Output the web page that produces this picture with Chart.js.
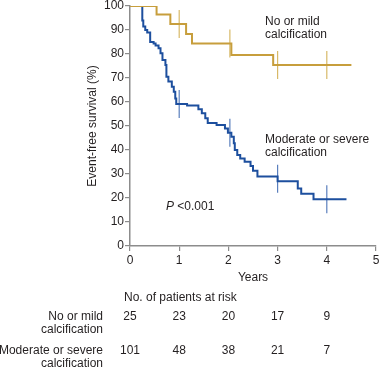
<!DOCTYPE html>
<html>
<head>
<meta charset="utf-8">
<script src="https://cdn.jsdelivr.net/npm/chart.js@4.4.0/dist/chart.umd.min.js"></script>
<style>
  html, body { margin: 0; padding: 0; background: #fff; }
  #wrap { width: 381px; height: 370px; }
</style>
</head>
<body>
<div id="wrap"><canvas id="kmChart" width="381" height="370"></canvas></div>
<script>
// Kaplan-Meier steps (years, % event-free)
const mildTimes = [0, 0.54, 0.82, 1.14, 1.26, 2.06, 2.91, 4.5];
const mildSurv  = [100, 96.5, 92.5, 88.3, 84.4, 79.6, 75.4, 75.4];
const severeTimes = [0, 0.25, 0.27, 0.31, 0.35, 0.41, 0.48, 0.52, 0.58, 0.62, 0.66, 0.72, 0.74, 0.78,
                     0.85, 0.89, 0.92, 0.94, 1.16, 1.39, 1.46, 1.53, 1.58, 1.76, 1.93, 1.99, 2.06,
                     2.11, 2.13, 2.18, 2.24, 2.33, 2.45, 2.50, 2.59, 3.0, 3.41, 3.48, 3.73, 4.4];
const severeSurv  = [100, 94, 91.5, 90, 89, 85, 84.4, 83.5, 82.4, 80.3, 77.5, 75.4, 70.5, 68.5,
                     66.4, 64.3, 61.5, 59.2, 58.5, 57, 55.3, 53.2, 51.3, 50.4, 49, 47.2, 45.5,
                     42.8, 40, 37.9, 36.5, 35.1, 33.3, 31.4, 29, 27, 24, 21.8, 19.5, 19.5];
// censoring marks
const mildCensorT = [1.0, 2.03, 3.0, 4.0];
const mildCensorS = [92.5, 84.4, 75.4, 75.4];
const severeCensorT = [1.0, 2.03, 3.0, 4.0];
const severeCensorS = [59.2, 47.2, 28, 19.5];

const xTicks = [0, 1, 2, 3, 4, 5];
const yTicks = [0, 10, 20, 30, 40, 50, 60, 70, 80, 90, 100];
const riskYears = [0, 1, 2, 3, 4];
const riskMild = [25, 23, 20, 17, 9];
const riskSevere = [101, 48, 38, 21, 7];

const gold = "#c79e3c";
const goldLight = "#d8b968";
const blue = "#1d4f9e";
const blueLight = "#5a7fbd";
const axisGray = "#8c8c8c";
const textColor = "#231f20";
const fontFam = "'Liberation Sans', Arial, Helvetica, sans-serif";

Chart.defaults.font.family = fontFam;
Chart.defaults.font.size = 12;
Chart.defaults.color = textColor;

function toPoints(xs, ys) {
    let pts = [];
    for (let i = 0; i < xs.length; i++) {
        pts.push({x: xs[i], y: ys[i]});
    }
    return pts;
}

function txt(ctx, s, x, y, align, font) {
    ctx.font = font || ("12px " + fontFam);
    ctx.textAlign = align;
    ctx.fillText(s, x, y);
}

const labelsPlugin = {
    id: "labelsPlugin",
    afterDraw(chart) {
        const ctx = chart.ctx;
        const xs = chart.scales.x;
        const area = chart.chartArea;
        ctx.save();
        ctx.fillStyle = textColor;
        ctx.textBaseline = "middle";

        // y axis title
        ctx.save();
        ctx.translate(93, (area.top + area.bottom) / 2);
        ctx.rotate(-Math.PI / 2);
        txt(ctx, "Event-free survival (%)", 0, 0, "center");
        ctx.restore();

        // x axis title
        txt(ctx, "Years", (area.left + area.right) / 2, 278, "center");

        // curve labels
        txt(ctx, "No or mild", 265, 22, "left");
        txt(ctx, "calcification", 265, 35, "left");
        txt(ctx, "Moderate or severe", 265, 140, "left");
        txt(ctx, "calcification", 265, 153, "left");

        // p value
        txt(ctx, "P", 166, 207, "left", "italic 12px " + fontFam);
        let pw = ctx.measureText("P").width;
        txt(ctx, " <0.001", 166 + pw, 207, "left");

        // risk table
        txt(ctx, "No. of patients at risk", 124, 298, "left");
        txt(ctx, "No or mild", 103, 317, "right");
        txt(ctx, "calcification", 103, 330, "right");
        txt(ctx, "Moderate or severe", 103, 351, "right");
        txt(ctx, "calcification", 103, 364, "right");
        for (let i = 0; i < riskYears.length; i++) {
            let px = xs.getPixelForValue(riskYears[i]);
            txt(ctx, String(riskMild[i]), px, 317, "center");
            txt(ctx, String(riskSevere[i]), px, 351, "center");
        }
        ctx.restore();
    }
};

const canvas = document.getElementById("kmChart").getContext("2d");
let kmChart = new Chart(canvas, {
    type: "scatter",
    data: {
        datasets: [
            {
                data: toPoints(mildTimes, mildSurv),
                showLine: true, stepped: true,
                borderColor: gold, borderWidth: 2, pointRadius: 0
            },
            {
                data: toPoints(severeTimes, severeSurv),
                showLine: true, stepped: true,
                borderColor: blue, borderWidth: 2, pointRadius: 0
            },
            {
                data: toPoints(mildCensorT, mildCensorS),
                showLine: false, pointStyle: "line", rotation: 90, clip: false,
                pointRadius: 14, borderColor: goldLight, pointBorderWidth: 1.2
            },
            {
                data: toPoints(severeCensorT, severeCensorS),
                showLine: false, pointStyle: "line", rotation: 90, clip: false,
                pointRadius: 14, borderColor: blueLight, pointBorderWidth: 1.2
            }
        ]
    },
    options: {
        responsive: false,
        animation: false,
        devicePixelRatio: 1,
        layout: { autoPadding: false, padding: { left: 0, right: 5, top: 6, bottom: 0 } },
        plugins: { legend: { display: false }, tooltip: { enabled: false } },
        scales: {
            x: {
                type: "linear", min: 0, max: 5,
                afterBuildTicks: (s) => { s.ticks = xTicks.map(v => ({value: v})); },
                afterFit: (s) => { s.height = 124; s.paddingLeft = 0; s.paddingRight = 0; },
                ticks: { padding: 2, color: textColor, font: { size: 12 } },
                grid: { drawOnChartArea: false, tickLength: 5, color: axisGray, lineWidth: 1.2 },
                border: { color: axisGray, width: 1.5 }
            },
            y: {
                type: "linear", min: 0, max: 100,
                afterBuildTicks: (s) => { s.ticks = yTicks.map(v => ({value: v})); },
                afterFit: (s) => { s.width = 130; s.paddingTop = 0; s.paddingBottom = 0; },
                ticks: { padding: 1, color: textColor, font: { size: 12 } },
                grid: { drawOnChartArea: false, tickLength: 5, color: axisGray, lineWidth: 1.2 },
                border: { color: axisGray, width: 1.5 }
            }
        }
    },
    plugins: [labelsPlugin]
});
</script>
</body>
</html>
